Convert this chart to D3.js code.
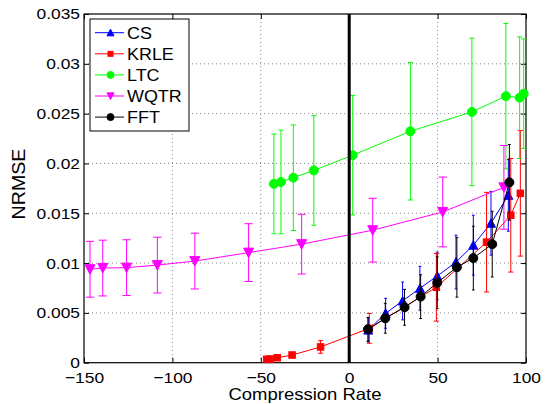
<!DOCTYPE html>
<html>
<head>
<meta charset="utf-8">
<script src="https://cdn.jsdelivr.net/npm/d3@7"></script>
<style>
body {margin: 0; background: #fff;}
text {font-family: "Liberation Sans", Arial, sans-serif; fill: #000;}
</style>
</head>
<body>
<div id="chart-area"></div>
<script>
// values
var csX   = [10.8, 20.6, 30.2, 40.0, 49.8, 60.4, 70.2, 80.2, 90.0];
var csY   = [0.00328, 0.00496, 0.0062, 0.00747, 0.0087, 0.0101, 0.0118, 0.0140, 0.0168];
var csErr = [0.0012, 0.0015, 0.0019, 0.0022, 0.0024, 0.0027, 0.0030, 0.0032, 0.0036];

var krleX   = [-46.7, -44.6, -40.7, -32.3, -16.2, 11.4, 49.3, 77.7, 91.4, 96.8];
var krleY   = [0.00034, 0.00037, 0.0005, 0.00077, 0.00158, 0.00345, 0.00757, 0.0121, 0.0148, 0.0170];
var krleErr = [0.0001, 0.0001, 0.0001, 0.0002, 0.00063, 0.0015, 0.0034, 0.005, 0.0057, 0.0063];

var ltcX   = [-42.6, -38.6, -31.6, -20.0, 2.0, 34.6, 69.4, 88.6, 96.4, 98.7];
var ltcY   = [0.01795, 0.01814, 0.01857, 0.0193, 0.02083, 0.02323, 0.02517, 0.02675, 0.0266, 0.0270];
var ltcErr = [0.0050, 0.0052, 0.0053, 0.0055, 0.0060, 0.0069, 0.0074, 0.0073, 0.0061, 0.0055];

var wqtrX   = [-146.6, -139.4, -125.9, -108.5, -87.3, -56.9, -26.9, 13.3, 52.9, 87.5];
var wqtrY   = [0.00938, 0.0095, 0.00954, 0.0098, 0.0102, 0.01105, 0.0119, 0.0133, 0.01513, 0.0176];
var wqtrErr = [0.0028, 0.0028, 0.0028, 0.0028, 0.0028, 0.0029, 0.0030, 0.0032, 0.0035, 0.0042];

var fftX   = [10.6, 20.4, 31.3, 40.4, 49.8, 60.9, 70.2, 80.9, 90.6];
var fftY   = [0.00335, 0.00446, 0.00556, 0.00663, 0.00803, 0.00958, 0.0105, 0.0119, 0.0181];
var fftErr = [0.0012, 0.0015, 0.0018, 0.0022, 0.0026, 0.0030, 0.0032, 0.0033, 0.0038];

var names = ["CS", "KRLE", "LTC", "WQTR", "FFT"];
var xTicks = [-150, -100, -50, 0, 50, 100];
var yTicks = [0, 0.005, 0.01, 0.015, 0.02, 0.025, 0.03, 0.035];

var margin = {left: 84, right: 20, top: 14, bottom: 41.3};
var width = 546 - margin.left - margin.right;
var height = 404 - margin.top - margin.bottom;

var svg = d3.select("#chart-area").append("svg")
    .attr("width", 546)
    .attr("height", 404);
var g = svg.append("g")
    .attr("transform", "translate(" + margin.left + "," + margin.top + ")");

var x = d3.scaleLinear().domain([-150, 100]).range([0, width]);
var y = d3.scaleLinear().domain([0, 0.035]).range([height, 0]);

// dotted grid
g.selectAll(".gx").data(xTicks.filter(d => d != -150 && d != 100 && d != 0))
    .enter().append("line")
    .attr("x1", d => x(d)).attr("x2", d => x(d))
    .attr("y1", 0).attr("y2", height)
    .attr("stroke", "#888").attr("stroke-dasharray", "1,3");
g.selectAll(".gy").data(yTicks.filter(d => d != 0 && d != 0.035))
    .enter().append("line")
    .attr("x1", 0).attr("x2", width)
    .attr("y1", d => y(d)).attr("y2", d => y(d))
    .attr("stroke", "#888").attr("stroke-dasharray", "1,3");

var fmtY = d => String(+d.toFixed(3));

var xAxis = g.append("g").attr("transform", "translate(0," + height + ")")
    .call(d3.axisBottom(x).tickValues(xTicks).tickSizeInner(-5).tickSizeOuter(0).tickPadding(9));
var yAxis = g.append("g")
    .call(d3.axisLeft(y).tickValues(yTicks).tickFormat(fmtY).tickSizeInner(-5).tickSizeOuter(0).tickPadding(4));
g.append("g")
    .call(d3.axisTop(x).tickValues(xTicks).tickFormat("").tickSizeInner(-5).tickSizeOuter(0));
g.append("g").attr("transform", "translate(" + width + ",0)")
    .call(d3.axisRight(y).tickValues(yTicks).tickFormat("").tickSizeInner(-5).tickSizeOuter(0));
g.selectAll(".domain").remove();
g.selectAll(".tick line").attr("stroke", "#000");
g.selectAll(".tick text").attr("font-size", 15.5).attr("class", "st");

g.append("rect")
    .attr("width", width).attr("height", height)
    .attr("fill", "none").attr("stroke", "#000").attr("stroke-width", 1.2);

// marker shapes
function marker(sel, type, color, s) {
    if (type == "circle") {
        sel.append("circle").attr("r", s / 2).attr("fill", color).attr("stroke", color);
    } else if (type == "square") {
        sel.append("rect").attr("x", -s / 2 + 0.5).attr("y", -s / 2 + 0.5)
            .attr("width", s - 1).attr("height", s - 1).attr("fill", color).attr("stroke", color);
    } else if (type == "up") {
        sel.append("path").attr("d", "M0," + (-s / 2) + "L" + (s / 2) + "," + (s / 2 * 0.9) + "L" + (-s / 2) + "," + (s / 2 * 0.9) + "Z")
            .attr("fill", color).attr("stroke", color);
    } else {
        sel.append("path").attr("d", "M0," + (s / 2) + "L" + (s / 2) + "," + (-s / 2 * 0.9) + "L" + (-s / 2) + "," + (-s / 2 * 0.9) + "Z")
            .attr("fill", color).attr("stroke", color);
    }
}

function drawSeries(xs, ys, errs, color, type, size) {
    var data = xs.map((d, i) => ({x: d, y: ys[i], e: errs[i]}));
    var tee = (d3.max(xs) - d3.min(xs)) / 100;
    var s = g.append("g");
    var bars = s.selectAll(".eb").data(data).enter().append("g");
    bars.append("line")
        .attr("x1", d => x(d.x)).attr("x2", d => x(d.x))
        .attr("y1", d => y(d.y - d.e)).attr("y2", d => y(d.y + d.e));
    bars.append("line")
        .attr("x1", d => x(d.x - tee)).attr("x2", d => x(d.x + tee))
        .attr("y1", d => y(d.y - d.e)).attr("y2", d => y(d.y - d.e));
    bars.append("line")
        .attr("x1", d => x(d.x - tee)).attr("x2", d => x(d.x + tee))
        .attr("y1", d => y(d.y + d.e)).attr("y2", d => y(d.y + d.e));
    bars.selectAll("line").attr("stroke", color).attr("stroke-width", 1);
    s.append("path").datum(data)
        .attr("d", d3.line().x(d => x(d.x)).y(d => y(d.y)))
        .attr("fill", "none").attr("stroke", color).attr("stroke-width", 1);
    s.selectAll(".mk").data(data).enter().append("g")
        .attr("transform", d => "translate(" + x(d.x) + "," + y(d.y) + ")")
        .each(function () { marker(d3.select(this), type, color, size); });
}

var colors = ["#0000ff", "#ff0000", "#00ff00", "#ff00ff", "#000000"];
var types = ["up", "square", "circle", "down", "circle"];

drawSeries(csX, csY, csErr, colors[0], types[0], 9);
drawSeries(krleX, krleY, krleErr, colors[1], types[1], 7.5);
drawSeries(ltcX, ltcY, ltcErr, colors[2], types[2], 9);
drawSeries(wqtrX, wqtrY, wqtrErr, colors[3], types[3], 10);
drawSeries(fftX, fftY, fftErr, colors[4], types[4], 9);

// thick line at zero
g.append("line")
    .attr("x1", x(0)).attr("x2", x(0))
    .attr("y1", y(0)).attr("y2", y(0.035))
    .attr("stroke", "#000").attr("stroke-width", 3);

// axis labels
svg.append("text").attr("class", "st")
    .attr("x", margin.left + width / 2).attr("y", 400)
    .attr("text-anchor", "middle").attr("font-size", 16.5)
    .text("Compression Rate");
svg.append("text").attr("class", "st")
    .attr("transform", "translate(25,184) rotate(-90)")
    .attr("text-anchor", "middle").attr("font-size", 17.5)
    .text("NRMSE");

// legend
var leg = svg.append("g").attr("transform", "translate(90,19)");
leg.append("rect").attr("width", 99).attr("height", 112)
    .attr("fill", "#fff").attr("stroke", "#000").attr("stroke-width", 1);
var rows = leg.selectAll(".row").data(names).enter().append("g")
    .attr("transform", (d, i) => "translate(0," + (13.7 + i * 21.1) + ")");
rows.append("line").attr("x1", 5).attr("x2", 34).attr("y1", 0).attr("y2", 0)
    .attr("stroke", (d, i) => colors[i]).attr("stroke-width", 1);
rows.append("g").attr("transform", "translate(20.5,0)")
    .each(function (d, i) { marker(d3.select(this), types[i], colors[i], i == 1 ? 6 : 7); });
rows.append("text").attr("class", "st")
    .attr("x", 37).attr("y", 6).attr("font-size", 16)
    .text(d => d);

// the reference text is a bit wider than the font: stretch it
svg.selectAll("text.st").each(function () {
    var t = d3.select(this);
    t.attr("textLength", this.getComputedTextLength() * 1.12).attr("lengthAdjust", "spacingAndGlyphs");
});
</script>
</body>
</html>
